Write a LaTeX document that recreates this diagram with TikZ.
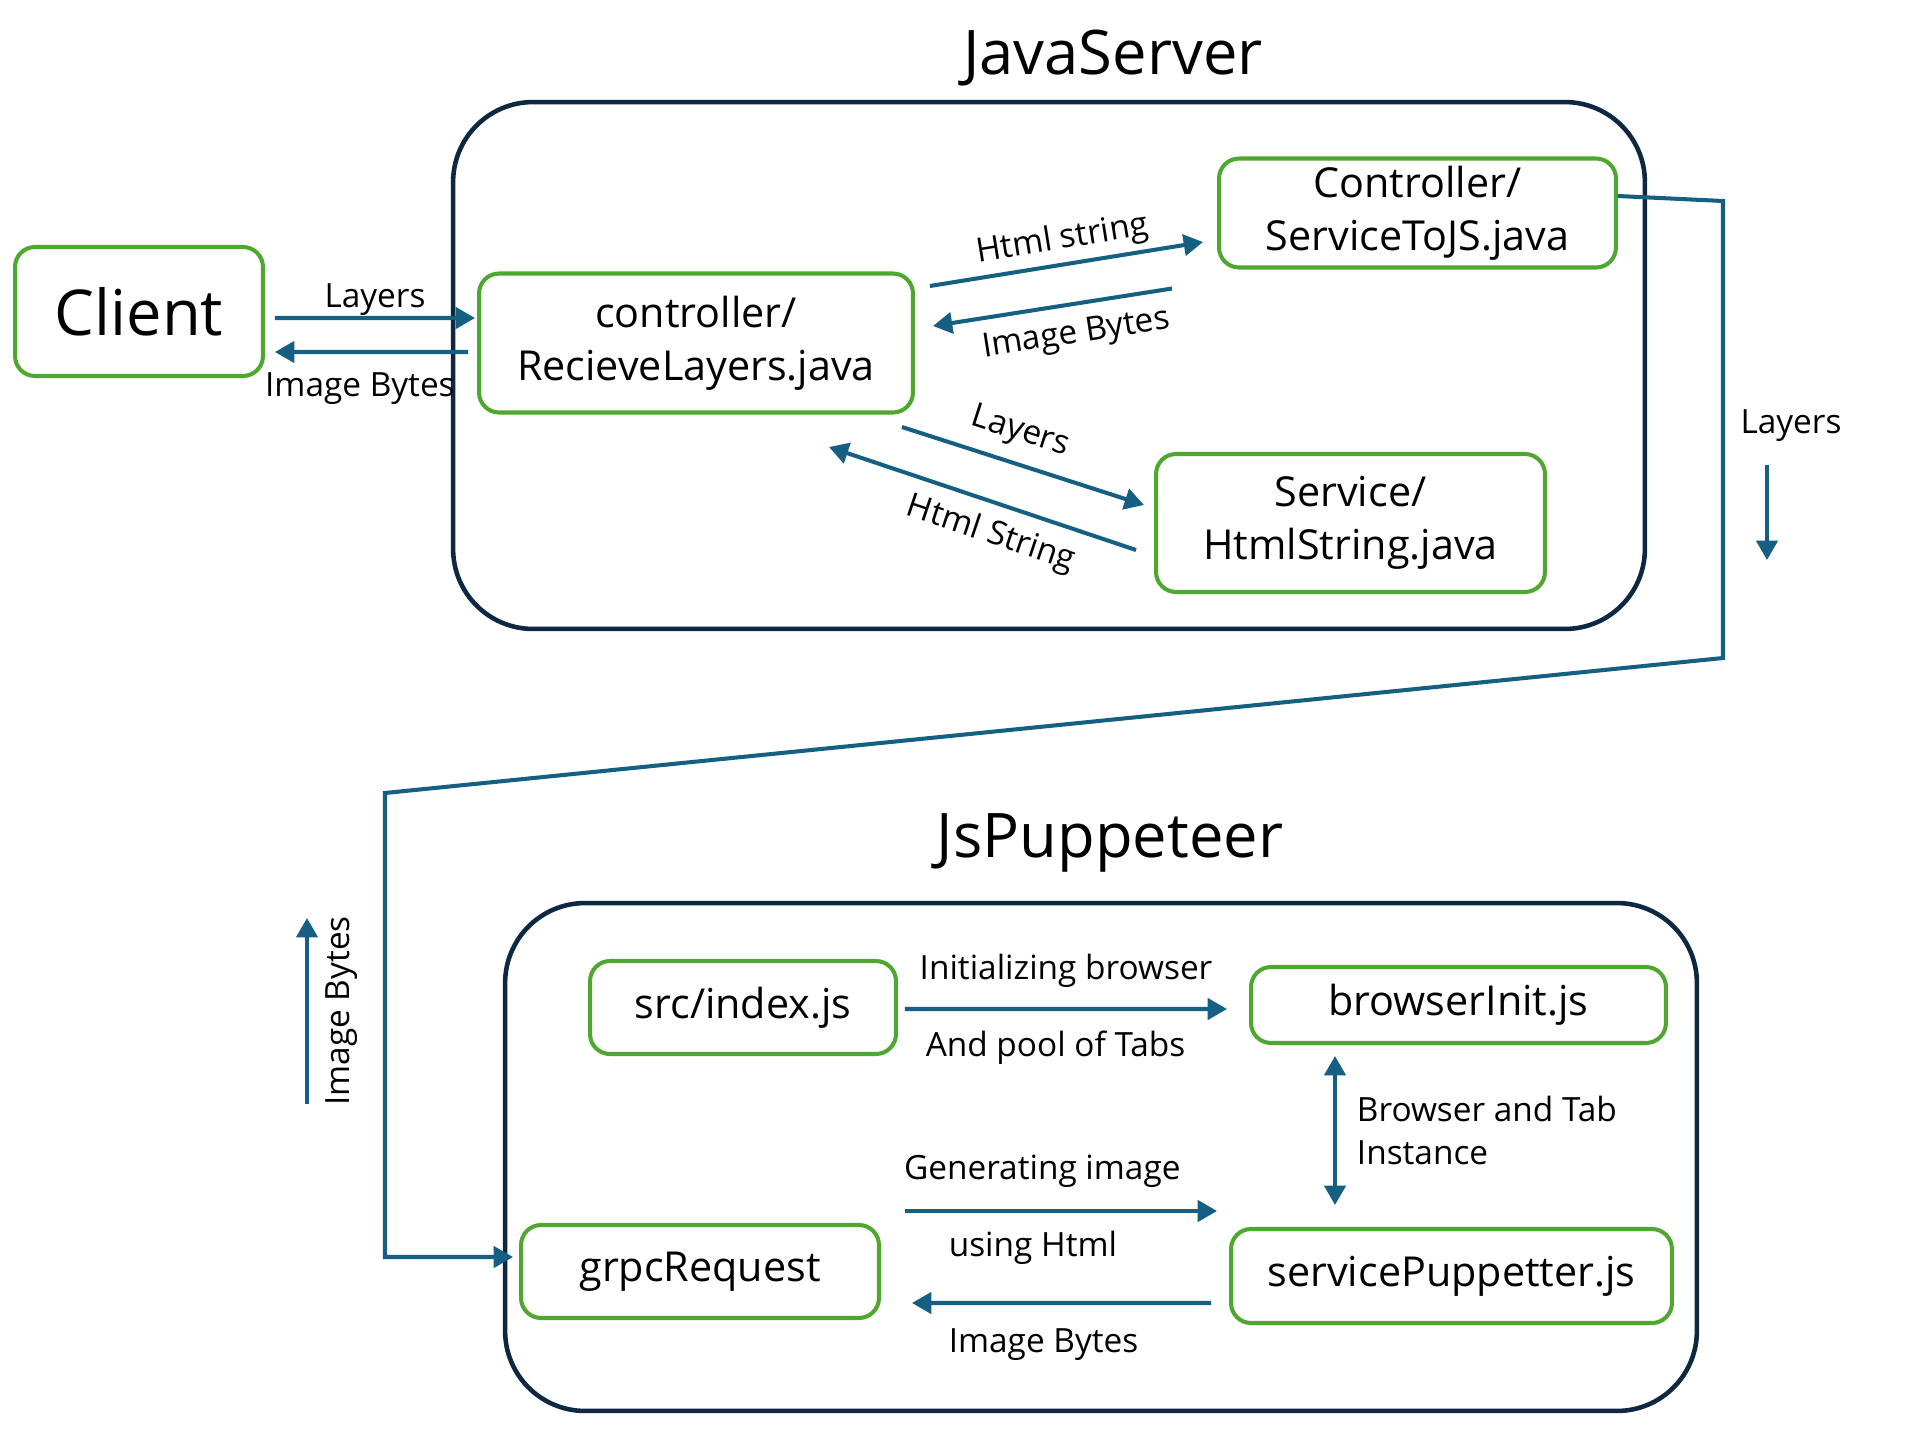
\documentclass[tikz,border=0pt]{standalone}
\usepackage{fontspec}
\setmainfont{Open Sans}
\usetikzlibrary{arrows.meta}
\usetikzlibrary{calc}

\definecolor{boxgreen}{HTML}{4EA72E}
\definecolor{flowblue}{HTML}{156082}
\definecolor{framenavy}{HTML}{0E2841}

\begin{document}
\begin{tikzpicture}[x=0.02cm,y=-0.02cm,
    part/.style={draw=boxgreen, line width=2.3pt, rounded corners=0.4cm, inner sep=0pt, align=center, font=\fontsize{23.5}{30}\selectfont},
    frame/.style={draw=framenavy, line width=2.6pt, rounded corners=1.6cm, inner sep=0pt},
    flow/.style={draw=flowblue, line width=2.3pt, -{Triangle[length=11pt,width=12pt]}},
    flowboth/.style={draw=flowblue, line width=2.3pt, {Triangle[length=11pt,width=12pt]}-{Triangle[length=11pt,width=12pt]}},
    lbl/.style={font=\fontsize{19}{25}\selectfont},
    title/.style={font=\fontsize{35}{40}\selectfont}]
    \useasboundingbox (0,0) rectangle (1908,1450);

    % JavaServer side
    \node[title] (javatitle) at (1113,58) {JavaServer};
    \node[frame, minimum width=23.84cm, minimum height=10.54cm] (javabox) at (1049,365.5) {};
    \node[part, minimum width=4.96cm, minimum height=2.58cm, font=\fontsize{36}{40}\selectfont] (client) at (139,311.5) {Client};
    \node[part, minimum width=8.68cm, minimum height=2.78cm] (recv) at (696,343) {controller/\\RecieveLayers.java};
    \node[part, minimum width=7.94cm, minimum height=2.18cm] (tojs) at (1417.5,213) {Controller/\\ServiceToJS.java};
    \node[part, minimum width=7.78cm, minimum height=2.76cm] (html) at (1350.5,523) {Service/\\HtmlString.java};

    % JsPuppeteer side
    \node[title] (jstitle) at (1110,843) {JsPuppeteer};
    \node[frame, minimum width=23.84cm, minimum height=10.16cm] (jsbox) at (1101,1157) {};
    \node[part, minimum width=6.12cm, minimum height=1.86cm] (index) at (743,1007.5) {src/index.js};
    \node[part, minimum width=8.30cm, minimum height=1.52cm] (init) at (1458.5,1005) {browserInit.js};
    \node[part, minimum width=7.16cm, minimum height=1.86cm] (grpc) at (700,1271.5) {grpcRequest};
    \node[part, minimum width=8.82cm, minimum height=1.88cm] (pup) at (1451.5,1276) {servicePuppetter.js};

    \draw[flow] ($(client.east)+(10,6.5)$) -- node[lbl,above=-3pt] {Layers} ($(recv.west)+(-2,-25)$);
    \draw[flow] ($(recv.west)+(-9,9)$) -- node[lbl,below=7pt,pos=0.56] {Image Bytes} ($(client.east)+(10,40.5)$);
    \draw[flow] ($(recv.east)+(15,-57)$) -- node[lbl,sloped,above] {Html string} ($(tojs.west)+(-14,29)$);
    \draw[flow] ($(tojs.south west)+(-45,19)$) -- node[lbl,sloped,below=4pt,pos=0.42] {Image Bytes} ($(recv.east)+(18,-17)$);
    \draw[flow] ($(recv.south east)+(-13,12.5)$) -- node[lbl,sloped,above=4pt,pos=0.45] {Layers} ($(html.west)+(-10,-18)$);
    \draw[flow] ($(html.west)+(-18,27)$) -- node[lbl,sloped,below=4pt,pos=0.44] {Html String} ($(recv.south east)+(-86,32.5)$);

    % link between the two servers
    \draw[flow] ($(tojs.east)+(0,-17)$) -- (1723,201) -- (1723,658) -- (385,793) -- (385,1257) -- ($(grpc.west)+(-6,-14.5)$);
    \coordinate (lyrtop) at (1767,465);
    \coordinate (lyrbot) at (1767,560);
    \draw[flow] (lyrtop) -- (lyrbot);
    \node[lbl] (lyrlbl) at (1791,426) {Layers};
    \coordinate (imgbot) at (307,1104);
    \coordinate (imgtop) at (307,918);
    \draw[flow] (imgbot) -- node[lbl,sloped,below=6pt] {Image Bytes} (imgtop);

    \draw[flow] ($(index.east)+(7,1.5)$) -- node[lbl,above=8pt] {Initializing browser} node[lbl,below right,yshift=-8pt,pos=0.04] {And pool of Tabs} ($(init.west)+(-22,4)$);
    \draw[flowboth] ($(init.south)+(-123.5,11)$) -- node[lbl,right=8pt,align=left] {Browser and Tab\\Instance} ($(pup.north)+(-116.5,-22)$);
    \draw[flow] ($(grpc.east)+(24,-60.5)$) -- node[lbl,above=9pt,pos=0.44] {Generating image} node[lbl,below=7pt,pos=0.41] {using Html} ($(pup.west)+(-12,-65)$);
    \draw[flow] ($(pup.west)+(-18,27)$) -- node[lbl,below=10pt,pos=0.56] {Image Bytes} ($(grpc.east)+(31,31.5)$);
\end{tikzpicture}
\end{document}
